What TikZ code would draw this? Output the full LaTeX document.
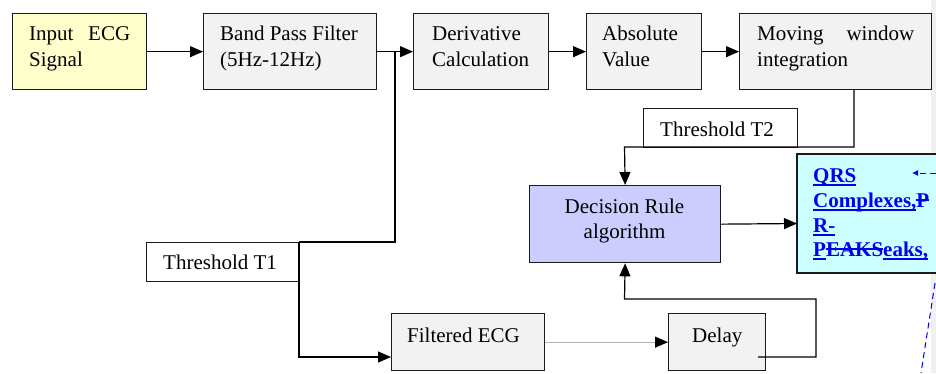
\documentclass[tikz,border=0pt]{standalone}
\usepackage{fontspec}
\setmainfont{Liberation Serif}
\newfontfamily\tnr{Liberation Serif}
\usetikzlibrary{arrows.meta}

% underline and strike-out drawn with rules
\newsavebox\markbox
\newcommand{\ulword}[1]{\sbox\markbox{#1}\rlap{\rule[-3.5pt]{\wd\markbox}{1.5pt}}\usebox\markbox}
\newcommand{\soword}[1]{\sbox\markbox{#1}\rlap{\rule[6.5pt]{\wd\markbox}{1.5pt}}\usebox\markbox}

\definecolor{inbg}{HTML}{FFFFCC}
\definecolor{procbg}{HTML}{F2F2F2}
\definecolor{decbg}{HTML}{CCCCFF}
\definecolor{outbg}{HTML}{CCFFFF}
\definecolor{edge}{HTML}{1A1A1A}
\definecolor{linkblue}{HTML}{0000F0}
\definecolor{margin}{HTML}{F0F0F0}

\tikzset{
  box/.style={draw=edge, line width=1.3pt, anchor=north west, inner sep=0pt},
  txt/.style={anchor=base west, inner sep=0pt, font=\tnr\fontsize{21}{26}\selectfont},
  ctxt/.style={anchor=base, inner sep=0pt, font=\tnr\fontsize{21}{26}\selectfont},
  otxt/.style={anchor=base west, inner sep=0pt, text=linkblue,
               font=\tnr\fontsize{21}{26}\selectfont\bfseries},
  wire/.style={line width=1.2pt, black},
  arr/.style={wire, -{Triangle[length=13pt,width=11pt]}},
  grayarr/.style={line width=1pt, black!30, -{Triangle[length=13pt,width=11pt,color=black]}},
  note/.style={linkblue, line width=1pt, dash pattern=on 6pt off 4pt}
}

\begin{document}
\begin{tikzpicture}[x=1pt, y=-1pt]
\useasboundingbox (0,0) rectangle (936,373);
\fill[white] (0,0) rectangle (936,373);
\fill[margin] (931,0) rectangle (936,373);

% processing chain
\node[box, fill=inbg,   minimum width=134pt, minimum height=76pt] (in)    at (12,13)  {};
\node[box, fill=procbg, minimum width=173pt, minimum height=76pt] (bpf)   at (203,13) {};
\node[box, fill=procbg, minimum width=135pt, minimum height=76pt] (deriv) at (413,13) {};
\node[box, fill=procbg, minimum width=115pt, minimum height=76pt] (absv)  at (586,13) {};
\node[box, fill=procbg, minimum width=192pt, minimum height=76pt] (mwi)   at (739,13) {};

% decision stage
\node[box, fill=decbg,  minimum width=191pt, minimum height=77pt] (dec)   at (529,185) {};
\node[box, fill=procbg, minimum width=153pt, minimum height=57pt] (filt)  at (391,313) {};
\node[box, fill=procbg, minimum width=97pt,  minimum height=57pt] (delay) at (668,313) {};
\node[box, fill=white,  minimum width=154pt, minimum height=39pt] (thtwo) at (643,108) {};
\node[box, fill=white,  minimum width=153pt, minimum height=39pt] (thone) at (146,242) {};

% output box, open on the right
\fill[outbg] (797,154) rectangle (936,273);
\draw[edge, line width=1.3pt] (936,154) -- (797,154) -- (797,273) -- (936,273);
\coordinate (out) at (797,223.5);

% texts
\node[txt] at (29,40) {\makebox[101pt][s]{Input ECG}};
\node[txt] at (29,66) {Signal};
\node[txt] at (220,40) {Band Pass Filter};
\node[txt] at (220,66) {(5Hz-12Hz)};
\node[txt] at (432,40) {Derivative};
\node[txt] at (432,66) {Calculation};
\node[txt] at (602,40) {Absolute};
\node[txt] at (602,66) {Value};
\node[txt] at (757,40) {\makebox[157pt][s]{Moving window}};
\node[txt] at (757,66) {integration};
\node[ctxt] at (624.5,213) {Decision Rule};
\node[ctxt] at (624.5,238) {algorithm};
\node[txt] at (660,136) {Threshold T2};
\node[txt] at (163,269) {Threshold T1};
\node[txt] at (407,342) {Filtered ECG};
\node[txt] at (692,342) {Delay};

\node[otxt] at (813,182) {\ulword{QRS}};
\node[otxt] at (813,207) {\ulword{Complexes,}\soword{P}};
\node[otxt] at (813,232) {\ulword{R-}};
\node[otxt] at (813,256) {\ulword{P}\soword{EAKS}\ulword{eaks,}};

% junction points of the wiring
\coordinate (j1) at (395,51);
\coordinate (t1a) at (395,242);
\coordinate (t1b) at (299,242);
\coordinate (t1c) at (299,357);
\coordinate (filtin) at (391,357);
\coordinate (t2a) at (854,89);
\coordinate (t2b) at (854,147);
\coordinate (t2c) at (624.5,147);
\coordinate (dl0) at (758,357);
\coordinate (dl1) at (816,357);
\coordinate (dl2) at (816,299);
\coordinate (dl3) at (624.5,299);

% connectors
\draw[arr] (in.east) -- (bpf.west);
\draw[arr] (bpf.east) -- (deriv.west);
\draw[arr] (deriv.east) -- (absv.west);
\draw[arr] (absv.east) -- (mwi.west);
\draw[wire] (j1) -- (t1a) -- (t1b);
\draw[arr] (t1b) -- (t1c) -- (filtin);
\draw[arr] (t2a) -- (t2b) -- (t2c) -- (dec.north);
\draw[arr] (dec.east) -- (out);
\draw[grayarr] (filt.east) -- (delay.west);
\draw[arr] (dl0) -- (dl1) -- (dl2) -- (dl3) -- (dec.south);

% review marks in the margin
\draw[note, -{Latex[length=6pt,width=6pt]}] (936,173) -- (912,173);
\draw[note] (935,283) -- (921,373);
\end{tikzpicture}
\end{document}
